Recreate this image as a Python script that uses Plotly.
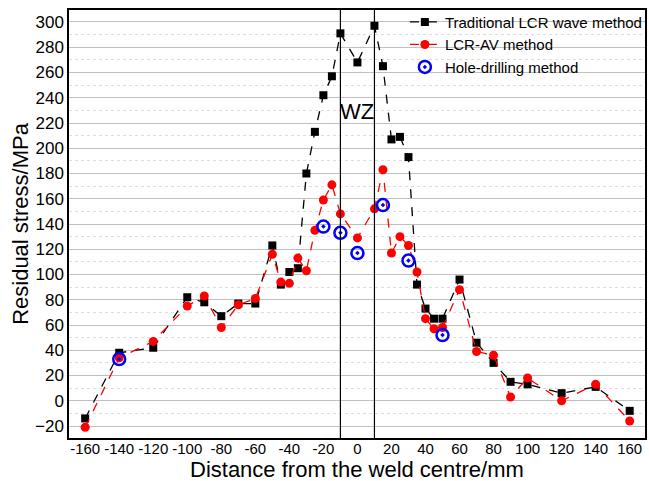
import plotly.graph_objects as go

x_pos = [-160, -140, -120, -100, -90, -80, -70, -60, -50, -45, -40, -35, -30, -25, -20, -15, -10,
         0, 10, 15, 20, 25, 30, 35, 40, 45, 50, 60, 70, 80, 90, 100, 120, 140, 160]
traditional = [-14, 38, 42, 82, 78, 67, 77, 77, 123, 92, 102, 105, 180, 213, 242, 257, 291,
               268, 297, 265, 207, 209, 193, 92, 73, 65, 65, 96, 46, 30, 15, 13, 6, 11, -8]
lcr_av = [-21, 34, 47, 75, 83, 58, 76, 81, 116, 94, 93, 113, 103, 135, 159, 171, 148,
          129, 152, 183, 117, 130, 123, 102, 65, 57, 58, 88, 39, 36, 3, 18, 0, 13, -16]
hole_x = [-140, -20, -10, 0, 15, 30, 50]
hole_y = [33, 138, 133, 117, 155, 111, 52]
wz_bounds = [-10, 10]
x_ticks = list(range(-160, 161, 20))
y_ticks = list(range(-20, 301, 20))

fig = go.Figure()
fig.add_trace(go.Scatter(
    x=x_pos, y=traditional, mode="lines+markers", name="Traditional LCR wave method",
    line=dict(color="black", dash="dash", width=1.3),
    marker=dict(symbol="square", size=8, color="black")))
fig.add_trace(go.Scatter(
    x=x_pos, y=lcr_av, mode="lines+markers", name="LCR-AV method",
    line=dict(color="#ff0000", dash="dash", width=1.3),
    marker=dict(symbol="circle", size=9, color="#ff0000")))
fig.add_trace(go.Scatter(
    x=hole_x, y=hole_y, mode="markers", name="Hole-drilling method",
    marker=dict(symbol="circle-open-dot", size=12, color="#0000ff", line=dict(width=2.5))))

for xv in wz_bounds:
    fig.add_vline(x=xv, line=dict(color="black", width=1.2))

fig.add_annotation(x=0, y=229, text="WZ", showarrow=False, font=dict(size=22, color="black"))
fig.add_annotation(x=0.5, y=0, xref="paper", yref="paper", yshift=-31, yanchor="middle",
                   text="Distance from the weld centre/mm", showarrow=False,
                   font=dict(size=22, color="black"))

fig.update_layout(
    width=649, height=481,
    margin=dict(l=69, r=4, t=10, b=43, autoexpand=False),
    paper_bgcolor="white", plot_bgcolor="white",
    font=dict(family="Arial, Liberation Sans, sans-serif", color="black"),
    showlegend=True,
    legend=dict(x=1.005, y=1.01, xanchor="right", yanchor="top", bgcolor="rgba(0,0,0,0)",
                font=dict(size=15), itemwidth=30, tracegroupgap=0),
)
fig.update_xaxes(
    range=[-169.5, 169], tickvals=x_ticks, ticktext=[str(v) for v in x_ticks],
    tickfont=dict(size=15), tickangle=0, showgrid=False, zeroline=False, automargin=False,
    showline=True, linecolor="black", linewidth=1.5, mirror=True, ticks="", ticklen=0,
    ticklabelstandoff=-4)
fig.update_yaxes(
    range=[-29.5, 309.5], tickvals=y_ticks, tickfont=dict(size=17), automargin=False,
    showgrid=True, gridcolor="#c0c0c0", gridwidth=1.2, zeroline=False,
    minor=dict(dtick=10, showgrid=True, gridcolor="#dddddd", griddash="dot", gridwidth=1),
    showline=True, linecolor="black", linewidth=1.5, mirror=True, ticks="",
    title=dict(text="Residual stress/MPa", font=dict(size=22), standoff=0))

fig.write_html("out.html", config={"displayModeBar": False},
               post_script="document.body.style.margin='0';")
